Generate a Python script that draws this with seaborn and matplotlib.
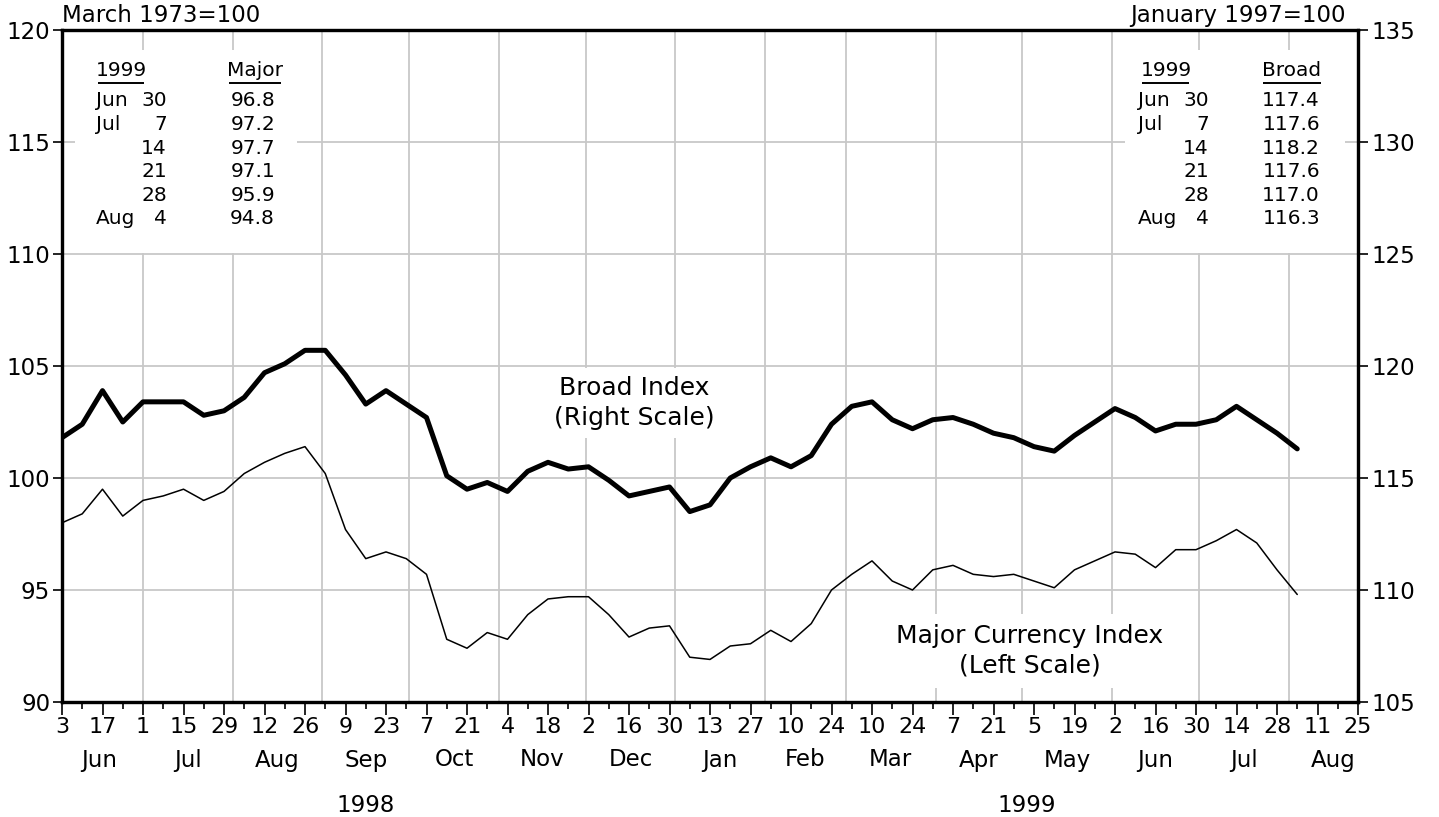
import numpy as np
import pandas as pd
import matplotlib
matplotlib.use("Agg")
import matplotlib.pyplot as plt
import matplotlib.dates as mdates
import matplotlib.ticker as mticker
import matplotlib.transforms as mtransforms
from matplotlib.patches import Rectangle
import seaborn as sns

# ---------------- data ----------------
start_date = "1998-06-03"          # first weekly observation (Wednesday)
end_axis_date = "1999-08-25"       # right end of the time axis

major = [98.0, 98.4, 99.5, 98.3, 99.0, 99.2, 99.5, 99.0, 99.4, 100.2,
         100.7, 101.1, 101.4, 100.2, 97.7, 96.4, 96.7, 96.4, 95.7, 92.8,
         92.4, 93.1, 92.8, 93.9, 94.6, 94.7, 94.7, 93.9, 92.9, 93.3,
         93.4, 92.0, 91.9, 92.5, 92.6, 93.2, 92.7, 93.5, 95.0, 95.7,
         96.3, 95.4, 95.0, 95.9, 96.1, 95.7, 95.6, 95.7, 95.4, 95.1,
         95.9, 96.3, 96.7, 96.6, 96.0, 96.8, 96.8, 97.2, 97.7, 97.1,
         95.9, 94.8]

broad = [116.8, 117.4, 118.9, 117.5, 118.4, 118.4, 118.4, 117.8, 118.0, 118.6,
         119.7, 120.1, 120.7, 120.7, 119.6, 118.3, 118.9, 118.3, 117.7, 115.1,
         114.5, 114.8, 114.4, 115.3, 115.7, 115.4, 115.5, 114.9, 114.2, 114.4,
         114.6, 113.5, 113.8, 115.0, 115.5, 115.9, 115.5, 116.0, 117.4, 118.2,
         118.4, 117.6, 117.2, 117.6, 117.7, 117.4, 117.0, 116.8, 116.4, 116.2,
         116.9, 117.5, 118.1, 117.7, 117.1, 117.4, 117.4, 117.6, 118.2, 117.6,
         117.0, 116.3]

month_labels = ["Jun", "Jul", "Aug", "Sep", "Oct", "Nov", "Dec",
                "Jan", "Feb", "Mar", "Apr", "May", "Jun", "Jul", "Aug"]
year_labels = ["1998", "1999"]

table_year = "1999"
table_months = ["Jun", "Jul", "", "", "", "Aug"]
table_days = ["30", "7", "14", "21", "28", "4"]
table_major = ["96.8", "97.2", "97.7", "97.1", "95.9", "94.8"]
table_broad = ["117.4", "117.6", "118.2", "117.6", "117.0", "116.3"]

left_ticks = [90, 95, 100, 105, 110, 115, 120]
right_ticks = [105, 110, 115, 120, 125, 130, 135]

# ---------------- frame ----------------
dates = pd.date_range(start_date, periods=len(major), freq="7D")
df = pd.DataFrame({"date": dates, "major": major, "broad": broad})

sns.set_style("white")
plt.rcParams["font.family"] = ["DejaVu Sans"]
plt.rcParams["text.color"] = "black"
plt.rcParams["xtick.color"] = "black"
plt.rcParams["ytick.color"] = "black"
plt.rcParams["xtick.labelcolor"] = "black"
plt.rcParams["ytick.labelcolor"] = "black"

W, H = 1439, 817
L, R, T, B = 62, 1358, 30, 702
fig = plt.figure(figsize=(W / 100, H / 100), dpi=100)
ax = fig.add_axes([L / W, 1 - B / H, (R - L) / W, (B - T) / H])
ax2 = ax.twinx()

def px2ax(px, py):
    return ((px - L) / (R - L), (B - py) / (B - T))

grid_c = "#c8c8c8"

sns.lineplot(data=df, x="date", y="major", ax=ax, color="black", lw=1.1, zorder=3)
sns.lineplot(data=df, x="date", y="broad", ax=ax2, color="black", lw=3.6, zorder=3)

ax.set_xlim(pd.Timestamp(start_date), pd.Timestamp(end_axis_date))
ax.set_ylim(left_ticks[0], left_ticks[-1])
ax2.set_ylim(right_ticks[0], right_ticks[-1])
ax.set_xlabel(""); ax.set_ylabel(""); ax2.set_xlabel(""); ax2.set_ylabel("")

# grid
ax.set_yticks(left_ticks)
ax2.set_yticks(right_ticks)
ax.yaxis.grid(True, color=grid_c, lw=1.3, zorder=0.5)
ax.xaxis.grid(False)
ax2.grid(False)
for m in pd.date_range("1998-07-01", "1999-08-01", freq="MS"):
    ax.axvline(m, color=grid_c, lw=1.3, zorder=0.5)

# x ticks
maj = pd.date_range(start_date, end_axis_date, freq="14D")
mnr = pd.date_range(start_date, end_axis_date, freq="7D")
ax.xaxis.set_major_locator(mticker.FixedLocator(mdates.date2num(maj)))
ax.xaxis.set_minor_locator(mticker.FixedLocator(mdates.date2num(mnr)))
ax.xaxis.set_major_formatter(mticker.FuncFormatter(lambda v, p: str(mdates.num2date(v).day)))
ax.tick_params(axis="x", which="major", bottom=True, direction="out", length=9,
               width=1.2, labelsize=16, pad=1.5, color="black", labelcolor="black")
ax.tick_params(axis="x", which="minor", bottom=True, direction="out", length=5,
               width=1.2, color="black")
ax.tick_params(axis="y", left=True, direction="out", length=6.5, width=1.2,
               labelsize=16.5, pad=2, color="black", labelcolor="black")
ax2.tick_params(axis="y", right=True, direction="out", length=7, width=1.2,
                labelsize=16.5, pad=3, color="black", labelcolor="black")

for a in (ax, ax2):
    for s in a.spines.values():
        s.set_linewidth(2.3)
        s.set_color("black")
        s.set_visible(True)

# month and year labels
bt = mtransforms.blended_transform_factory(ax.transData, ax.transAxes)
m_starts = pd.date_range("1998-06-01", "1999-09-01", freq="MS")
for lab, s0, s1 in zip(month_labels, m_starts[:-1], m_starts[1:]):
    ax.text(s0 + (s1 - s0) / 2, px2ax(0, 760)[1], lab, transform=bt,
            ha="center", va="center", fontsize=16.5, color="black")
y_bounds = [(pd.Timestamp("1998-06-01"), pd.Timestamp("1999-01-01")),
            (pd.Timestamp("1999-01-01"), pd.Timestamp("1999-09-01"))]
for lab, (s0, s1) in zip(year_labels, y_bounds):
    ax.text(s0 + (s1 - s0) / 2, px2ax(0, 805)[1], lab, transform=bt,
            ha="center", va="center", fontsize=16.5, color="black")

# base notes
ax.text(0.0, 1.004, "March 1973=100", transform=ax.transAxes, ha="left",
        va="bottom", fontsize=16.5, color="black")
ax.text(px2ax(1346, 0)[0], 1.004, "January 1997=100", transform=ax.transAxes,
        ha="right", va="bottom", fontsize=16.5, color="black")

# series labels
ax.text(*px2ax(634, 403), "Broad Index\n(Right Scale)", transform=ax.transAxes,
        ha="center", va="center", fontsize=18, linespacing=1.3, zorder=2,
        color="black", bbox=dict(facecolor="white", edgecolor="none", pad=6))
ax.text(*px2ax(1030, 651), "Major Currency Index\n(Left Scale)", transform=ax.transAxes,
        ha="center", va="center", fontsize=18, linespacing=1.3, zorder=2,
        color="black", bbox=dict(facecolor="white", edgecolor="none", pad=7))

# tables
def draw_table(x0, x1, head_year_c, head_val_c, ul_year, ul_val, month_x, day_x,
               val_x, head, values):
    xa0, ya0 = px2ax(x0, 253)
    xa1, ya1 = px2ax(x1, 50)
    ax.add_patch(Rectangle((xa0, ya0), xa1 - xa0, ya1 - ya0, transform=ax.transAxes,
                           facecolor="white", edgecolor="none", zorder=1))
    fs = 14.5
    ax.text(*px2ax(head_year_c, 70), table_year, transform=ax.transAxes,
            ha="center", va="center", fontsize=fs, zorder=2, color="black")
    ax.text(*px2ax(head_val_c, 70), head, transform=ax.transAxes,
            ha="center", va="center", fontsize=fs, zorder=2, color="black")
    for (u0, u1) in (ul_year, ul_val):
        p0 = px2ax(u0, 83); p1 = px2ax(u1, 83)
        ax.plot([p0[0], p1[0]], [p0[1], p1[1]], transform=ax.transAxes,
                color="black", lw=1.4, zorder=2, solid_capstyle="butt")
    for i, (mo, d, v) in enumerate(zip(table_months, table_days, values)):
        yy = 101 + 23.6 * i
        ax.text(*px2ax(month_x, yy), mo, transform=ax.transAxes, ha="left",
                va="center", fontsize=fs, zorder=2, color="black")
        ax.text(*px2ax(day_x, yy), d, transform=ax.transAxes, ha="right",
                va="center", fontsize=fs, zorder=2, color="black")
        ax.text(*px2ax(val_x, yy), v, transform=ax.transAxes, ha="right",
                va="center", fontsize=fs, zorder=2, color="black")

draw_table(75, 297, 121, 255, (98, 144), (229, 281), 96, 167, 275, "Major", table_major)
draw_table(1125, 1345, 1166, 1292, (1142, 1189), (1263, 1321), 1138, 1209, 1320,
           "Broad", table_broad)

fig.savefig("out.png", dpi=100)
